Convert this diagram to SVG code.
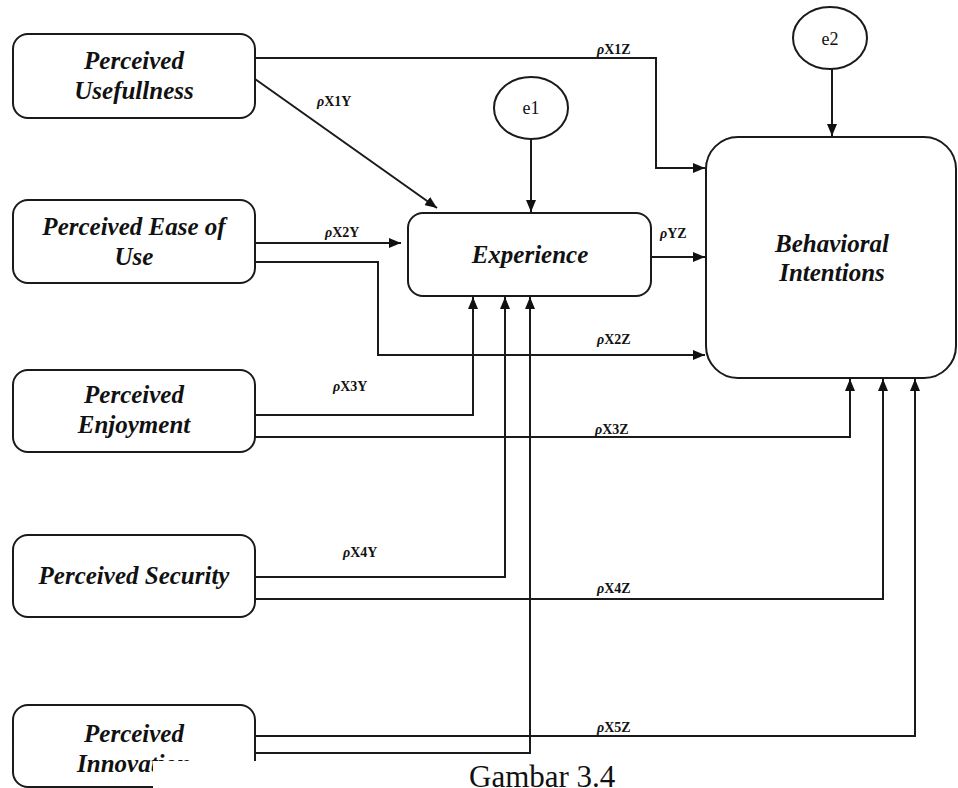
<svg xmlns="http://www.w3.org/2000/svg" width="958" height="788" viewBox="0 0 958 788">
<style>
.box{fill:#fff;stroke:#1a1a1a;stroke-width:2}
.nt{font-family:"Liberation Serif","Times New Roman",serif;font-weight:bold;font-style:italic;font-size:25px;fill:#111;text-anchor:middle}
.et{font-family:"Liberation Serif","Times New Roman",serif;font-size:18px;fill:#111;text-anchor:middle}
.lb{font-family:"Liberation Serif","Times New Roman",serif;font-weight:bold;font-size:14px;fill:#111}
.lb .r{font-style:italic}
.cn{fill:none;stroke:#1a1a1a;stroke-width:2}
.cap{font-family:"Liberation Serif","Times New Roman",serif;font-size:31px;fill:#111}
</style>
<defs>
<marker id="ah" viewBox="0 0 12 10" refX="12" refY="5" markerWidth="12" markerHeight="10" markerUnits="userSpaceOnUse" orient="auto">
<path d="M0,0 L12,5 L0,10 Z" fill="#111"/>
</marker>
</defs>
<rect width="958" height="788" fill="#fff"/>
<g id="connectors">
<path class="cn" d="M255,58 H656 V168 H705" marker-end="url(#ah)"/>
<path class="cn" d="M255,79 L437,208" marker-end="url(#ah)"/>
<path class="cn" d="M255,243 H401" marker-end="url(#ah)"/>
<path class="cn" d="M255,262 H378 V355 H705" marker-end="url(#ah)"/>
<path class="cn" d="M651,257 H705" marker-end="url(#ah)"/>
<path class="cn" d="M531,139 V212" marker-end="url(#ah)"/>
<path class="cn" d="M832,68 V136" marker-end="url(#ah)"/>
<path class="cn" d="M255,415 H473 V297" marker-end="url(#ah)"/>
<path class="cn" d="M255,437 H850 V379" marker-end="url(#ah)"/>
<path class="cn" d="M255,577 H505 V297" marker-end="url(#ah)"/>
<path class="cn" d="M255,599 H883 V379" marker-end="url(#ah)"/>
<path class="cn" d="M255,736 H915 V379" marker-end="url(#ah)"/>
<path class="cn" d="M255,753 H530 V297" marker-end="url(#ah)"/>
<text class="lb" x="597" y="54"><tspan class="r">ρ</tspan>X1Z</text>
<text class="lb" x="317" y="106"><tspan class="r">ρ</tspan>X1Y</text>
<text class="lb" x="325" y="237"><tspan class="r">ρ</tspan>X2Y</text>
<text class="lb" x="660" y="238"><tspan class="r">ρ</tspan>YZ</text>
<text class="lb" x="597" y="344"><tspan class="r">ρ</tspan>X2Z</text>
<text class="lb" x="333" y="391"><tspan class="r">ρ</tspan>X3Y</text>
<text class="lb" x="595" y="434"><tspan class="r">ρ</tspan>X3Z</text>
<text class="lb" x="343" y="557"><tspan class="r">ρ</tspan>X4Y</text>
<text class="lb" x="597" y="593"><tspan class="r">ρ</tspan>X4Z</text>
<text class="lb" x="597" y="732"><tspan class="r">ρ</tspan>X5Z</text>
</g>
<g id="pu">
<rect class="box" x="13" y="34" width="242" height="84" rx="15"/>
<text class="nt" x="134" y="69">Perceived</text>
<text class="nt" x="134" y="99">Usefullness</text>
</g>
<g id="peou">
<rect class="box" x="13" y="200" width="242" height="83" rx="15"/>
<text class="nt" x="134" y="235">Perceived Ease of</text>
<text class="nt" x="134" y="265">Use</text>
</g>
<g id="pe">
<rect class="box" x="13" y="370" width="242" height="82" rx="15"/>
<text class="nt" x="134" y="403">Perceived</text>
<text class="nt" x="134" y="433">Enjoyment</text>
</g>
<g id="ps">
<rect class="box" x="13" y="535" width="242" height="82" rx="15"/>
<text class="nt" x="134" y="584">Perceived Security</text>
</g>
<g id="pi">
<rect class="box" x="13" y="705" width="242" height="82" rx="15"/>
<text class="nt" x="134" y="742">Perceived</text>
<text class="nt" x="134" y="772">Innovation</text>
</g>
<g id="experience">
<rect class="box" x="408" y="213" width="243" height="83" rx="15"/>
<text class="nt" x="530" y="263">Experience</text>
</g>
<g id="bi">
<rect class="box" x="706" y="137" width="250" height="241" rx="32"/>
<text class="nt" x="832" y="252">Behavioral</text>
<text class="nt" x="832" y="281">Intentions</text>
</g>
<g id="e1">
<ellipse class="box" cx="531" cy="108" rx="37" ry="31"/>
<text class="et" x="531" y="114">e1</text>
</g>
<g id="e2">
<ellipse class="box" cx="830" cy="38" rx="37" ry="31"/>
<text class="et" x="830" y="45">e2</text>
</g>
<rect x="153" y="761" width="805" height="27" fill="#fff"/>
<text class="cap" x="469" y="787">Gambar 3.4</text>
</svg>
